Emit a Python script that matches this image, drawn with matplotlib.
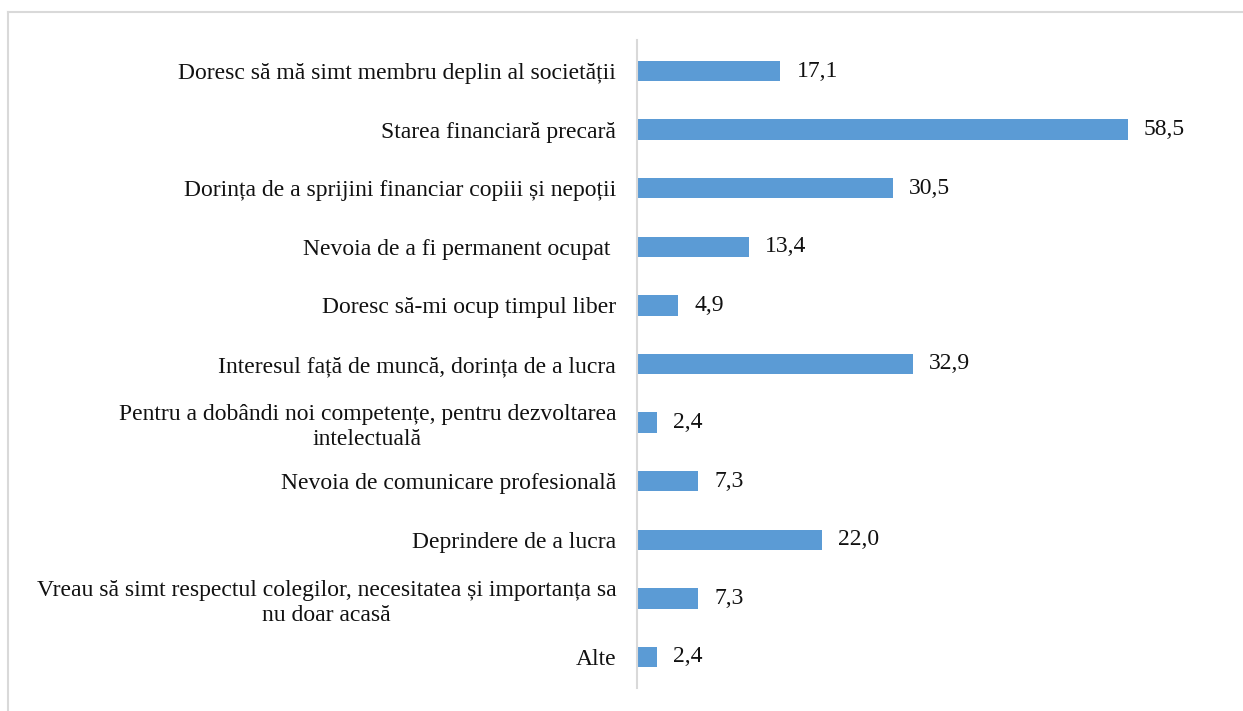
import matplotlib
matplotlib.use("Agg")
import matplotlib.pyplot as plt
from matplotlib.lines import Line2D

plt.rcParams["font.family"] = ["Liberation Serif", "DejaVu Serif"]

categories = [
    "Doresc să mă simt membru deplin al societății",
    "Starea financiară precară",
    "Dorința de a sprijini financiar copiii și nepoții",
    "Nevoia de a fi permanent ocupat ",
    "Doresc să-mi ocup timpul liber",
    "Interesul față de muncă, dorința de a lucra",
    "Pentru a dobândi noi competențe, pentru dezvoltarea\nintelectuală",
    "Nevoia de comunicare profesională",
    "Deprindere de a lucra",
    "Vreau să simt respectul colegilor, necesitatea și importanța sa\nnu doar acasă",
    "Alte",
]
values = [17.1, 58.5, 30.5, 13.4, 4.9, 32.9, 2.4, 7.3, 22.0, 7.3, 2.4]
value_labels = ["17,1", "58,5", "30,5", "13,4", "4,9", "32,9", "2,4", "7,3", "22,0", "7,3", "2,4"]

W, H = 1243, 711
fig = plt.figure(figsize=(W / 100, H / 100), dpi=100)

# axes in pixel geometry: left edge at the vertical axis line
x0, x1 = 637, 1200
y_top, y_bot = 40, 688
ax = fig.add_axes([x0 / W, 1 - y_bot / H, (x1 - x0) / W, (y_bot - y_top) / H])

n = len(categories)
pos = list(range(n))
ax.barh(pos, values, height=0.35, color="#5B9BD5", zorder=2)
ax.set_ylim(n - 0.47, -0.53)
ax.set_xlim(0, (x1 - x0) / 8.39)

for y, v, lab in zip(pos, values, value_labels):
    ax.annotate(lab, (v, y), xytext=(11.5, 0), textcoords="offset points",
                fontsize=17, va="center", ha="left", color="#111111")

ax.set_yticks(pos)
ax.set_yticklabels(categories, fontsize=17, color="#111111",
                   multialignment="center", linespacing=1.25)
ax.tick_params(axis="y", length=0, pad=15)
ax.set_xticks([])
for s in ["top", "right", "bottom"]:
    ax.spines[s].set_visible(False)
ax.spines["left"].set_color("#D9D9D9")
ax.spines["left"].set_linewidth(1.5)

# chart frame (outer border)
fig.add_artist(Line2D([8 / W, 1.0], [1 - 12 / H, 1 - 12 / H], color="#D9D9D9", lw=1.5))
fig.add_artist(Line2D([8 / W, 8 / W], [0, 1 - 12 / H], color="#D9D9D9", lw=1.5))

fig.savefig("out.png", dpi=100)
